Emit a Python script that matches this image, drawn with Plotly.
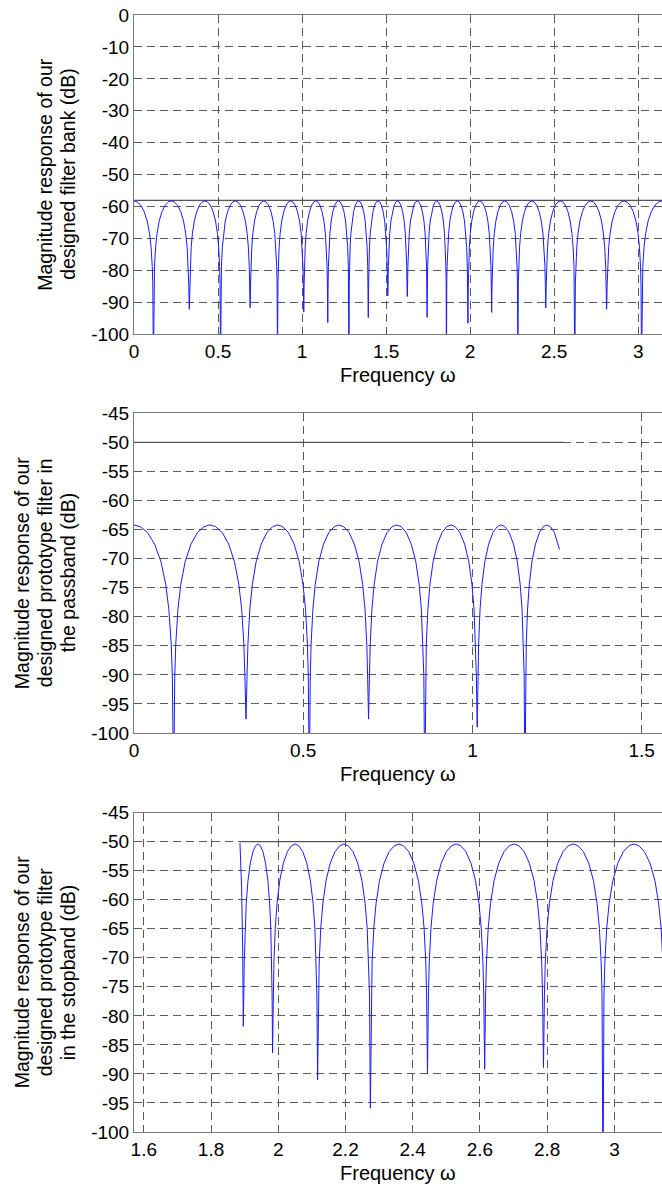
import plotly.graph_objects as go

# ---------------- data ----------------
# Shared shape of one ripple lobe between two adjacent nulls
# (fraction of the null-to-null span, level relative to the lobe peak in dB)
LOBE_FRAC = [0.016, 0.03, 0.06, 0.10, 0.16, 0.24, 0.33, 0.42, 0.50,
             0.58, 0.67, 0.76, 0.84, 0.90, 0.94, 0.97, 0.984]
LOBE_REL_DB = [-26.0, -20.5, -14.5, -10.2, -6.3, -3.3, -1.3, -0.3, 0.0,
               -0.3, -1.3, -3.3, -6.3, -10.2, -14.5, -20.5, -26.0]

# Panel 1: filter bank
P1_NULL_X = [-0.1156, 0.1156, 0.329, 0.515, 0.691, 0.854, 1.010, 1.153, 1.279,
             1.394, 1.510, 1.626, 1.744, 1.859, 1.987, 2.128, 2.284, 2.450,
             2.623, 2.812, 3.020, 3.263]
P1_NULL_DB = [-110, -110, -92.1, -110, -91.6, -110, -93.0, -96.3, -110,
              -94.7, -87.9, -88.1, -94.7, -110, -96.5, -93.1, -110, -91.7,
              -110, -92.1, -110, -110]
P1_PEAK_DB = -58.2
P1_REF_X = [0.0, 3.1416]
P1_REF_DB = [-58.0, -58.0]

# Panel 2: prototype filter, passband
P2_NULL_X = [-0.117, 0.117, 0.331, 0.518, 0.693, 0.859, 1.014, 1.155, 1.285]
P2_NULL_DB = [-110, -110, -97.6, -110, -97.6, -110, -99.0, -110, -110]
P2_PEAK_DB = -64.2
P2_END_X = 1.257
P2_END_DB = -68.4
P2_REF_X = [0.0, 1.27]
P2_REF_DB = [-50.0, -50.0]

# Panel 3: prototype filter, stopband
P3_HEAD_X = [1.886, 1.891, 1.894]
P3_HEAD_DB = [-50.2, -58.0, -68.0]
P3_NULL_X = [1.896, 1.983, 2.117, 2.274, 2.444, 2.614, 2.789, 2.966, 3.150]
P3_NULL_DB = [-81.8, -86.4, -91.0, -95.9, -90.0, -89.2, -88.9, -110, -110]
P3_PEAK_DB = -50.4
P3_REF_X = [1.886, 3.1416]
P3_REF_DB = [-50.0, -50.0]

# Axis ticks
P1_XTICKS = [0, 0.5, 1, 1.5, 2, 2.5, 3]
P1_XLABELS = ["0", "0.5", "1", "1.5", "2", "2.5", "3"]
P1_YTICKS = [0, -10, -20, -30, -40, -50, -60, -70, -80, -90, -100]
P1_YLABELS = ["0", "-10", "-20", "-30", "-40", "-50", "-60", "-70", "-80", "-90", "-100"]
P2_XTICKS = [0, 0.5, 1, 1.5]
P2_XLABELS = ["0", "0.5", "1", "1.5"]
P3_XTICKS = [1.6, 1.8, 2.0, 2.2, 2.4, 2.6, 2.8, 3.0]
P3_XLABELS = ["1.6", "1.8", "2", "2.2", "2.4", "2.6", "2.8", "3"]
P23_YTICKS = [-45, -50, -55, -60, -65, -70, -75, -80, -85, -90, -95, -100]
P23_YLABELS = ["-45", "-50", "-55", "-60", "-65", "-70", "-75", "-80", "-85", "-90", "-95", "-100"]

Y_TITLES = [
    ["Magnitude response of our", "designed filter bank (dB)"],
    ["Magnitude response of our", "designed prototype filter in", "the passband (dB)"],
    ["Magnitude response of our", "designed prototype filter", "in the stopband (dB)"],
]
X_TITLE = "Frequency \u03c9"


def lobes(null_x, null_db, peak):
    xs, ys = [], []
    for i in range(len(null_x) - 1):
        a, b = null_x[i], null_x[i + 1]
        xs.append(a)
        ys.append(null_db[i])
        for f, r in zip(LOBE_FRAC, LOBE_REL_DB):
            xs.append(a + f * (b - a))
            ys.append(peak + r)
    xs.append(null_x[-1])
    ys.append(null_db[-1])
    return xs, ys


x1, y1 = lobes(P1_NULL_X, P1_NULL_DB, P1_PEAK_DB)
x2a, y2a = lobes(P2_NULL_X, P2_NULL_DB, P2_PEAK_DB)
x2 = [x for x in x2a if x < P2_END_X] + [P2_END_X]
y2 = [y for x, y in zip(x2a, y2a) if x < P2_END_X] + [P2_END_DB]
x3b, y3b = lobes(P3_NULL_X, P3_NULL_DB, P3_PEAK_DB)
x3 = P3_HEAD_X + x3b
y3 = P3_HEAD_DB + y3b

# ---------------- figure ----------------
FONT = "Liberation Sans, Arial, sans-serif"
BLUE = "#1a1aff"
GRID = "#5a5a5a"
AX = "#7a7a7a"

fig = go.Figure()
for (xr, yr, ax) in [(P1_REF_X, P1_REF_DB, ""), (P2_REF_X, P2_REF_DB, "2"), (P3_REF_X, P3_REF_DB, "3")]:
    fig.add_trace(go.Scatter(x=xr, y=yr, mode="lines", line=dict(color="#555555", width=1.2),
                             xaxis="x" + ax, yaxis="y" + ax, showlegend=False, hoverinfo="skip"))
for (xs, ys, ax) in [(x1, y1, ""), (x2, y2, "2"), (x3, y3, "3")]:
    fig.add_trace(go.Scatter(x=xs, y=ys, mode="lines", line=dict(color=BLUE, width=1),
                             xaxis="x" + ax, yaxis="y" + ax, showlegend=False))

# plot area spans page x 134..662, y 15..1132 (body margin removed below)
FIG_W, FIG_H = 662, 1185
M_L, M_T, M_B = 134, 15, 53
PLOT_W = FIG_W - M_L
PLOT_H = FIG_H - M_T - M_B
doms = [(0.7140, 1.0), (0.3572, 0.6434), (0.0, 0.2859)]

TICK_FONT = dict(family=FONT, size=19, color="black")
common_x = dict(showline=True, mirror=True, linecolor=AX, linewidth=1, showgrid=True,
                gridcolor=GRID, griddash="8px,5px", gridwidth=1, zeroline=False, ticks="",
                tickfont=TICK_FONT)
common_y = dict(showline=True, mirror=False, linecolor=AX, linewidth=1, showgrid=True,
                gridcolor=GRID, griddash="8px,5px", gridwidth=1, zeroline=False, ticks="",
                tickfont=TICK_FONT)

fig.update_layout(
    width=FIG_W, height=FIG_H,
    margin=dict(l=M_L, r=0, t=M_T, b=M_B),
    paper_bgcolor="white", plot_bgcolor="white",
    font=dict(family=FONT, size=19, color="black"),
    xaxis=dict(domain=[0, 1], range=[0, 3.14159], tickvals=P1_XTICKS, ticktext=P1_XLABELS,
               anchor="y", **common_x),
    yaxis=dict(domain=list(doms[0]), range=[-100, 0], tickvals=P1_YTICKS, ticktext=P1_YLABELS,
               anchor="x", **common_y),
    xaxis2=dict(domain=[0, 1], range=[0, 1.56], tickvals=P2_XTICKS, ticktext=P2_XLABELS,
                anchor="y2", **common_x),
    yaxis2=dict(domain=list(doms[1]), range=[-100, -45], tickvals=P23_YTICKS, ticktext=P23_YLABELS,
                anchor="x2", **common_y),
    xaxis3=dict(domain=[0, 1], range=[1.5708, 3.14159], tickvals=P3_XTICKS, ticktext=P3_XLABELS,
                anchor="y3", **common_x),
    yaxis3=dict(domain=list(doms[2]), range=[-100, -45], tickvals=P23_YTICKS, ticktext=P23_YLABELS,
                anchor="x3", **common_y),
)

annos = []
line_px = [[45.0, 68.0], [22.0, 45.0, 68.0], [22.0, 45.0, 68.0]]
for i, (d0, d1) in enumerate(doms):
    for txt, px in zip(Y_TITLES[i], line_px[i]):
        annos.append(dict(text=txt, xref="paper", yref="paper",
                          x=(px - M_L) / PLOT_W, y=(d0 + d1) / 2,
                          xanchor="center", yanchor="middle", textangle=-90, showarrow=False,
                          font=dict(family=FONT, size=19.5, color="black")))
    annos.append(dict(text=X_TITLE, xref="paper", yref="paper",
                      x=0.5, y=d0 - 41.0 / PLOT_H, xanchor="center", yanchor="middle",
                      showarrow=False, font=dict(family=FONT, size=20, color="black")))
fig.update_layout(annotations=annos)

fig.write_html(
    "out.html",
    config={"displayModeBar": False},
    post_script="document.body.style.margin='0';document.body.style.overflow='hidden';",
)
